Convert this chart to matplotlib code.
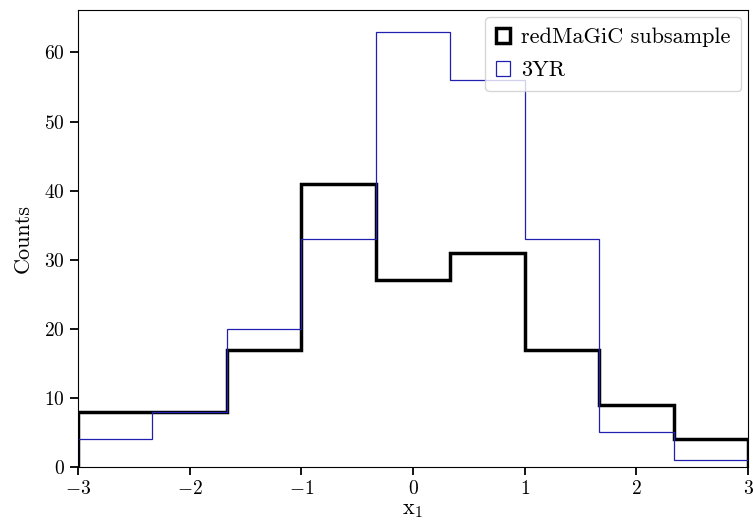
import numpy as np
import matplotlib
matplotlib.use("Agg")
import matplotlib.pyplot as plt

plt.rcParams['font.family'] = 'serif'
plt.rcParams['font.serif'] = ['cmr10']
plt.rcParams['mathtext.fontset'] = 'cm'
plt.rcParams['axes.formatter.use_mathtext'] = True
plt.rcParams['font.size'] = 14

# bin edges en x1 y cuentas por bin
bordes = np.linspace(-3, 3, 10)
cuentas_redmagic = [8, 8, 17, 41, 27, 31, 17, 9, 4]
cuentas_3yr = [4, 8, 20, 33, 63, 56, 33, 5, 1]

centros = 0.5 * (bordes[:-1] + bordes[1:])

fig = plt.figure(figsize=(7.53, 5.25), dpi=100)
ax = fig.add_axes([0.1036, 0.1105, 0.8898, 0.8705])

ax.hist(centros, bins=bordes, weights=cuentas_redmagic, histtype='step',
        color='black', lw=2.5, label='redMaGiC subsample')
ax.hist(centros, bins=bordes, weights=cuentas_3yr, histtype='step',
        color='#2020b0', lw=0.9, label='3YR')

ax.set_xlim(-3, 3)
ax.tick_params(labelsize=14, length=6, width=1.3)
ax.set_xlabel(r'x$_1$', fontsize=16, labelpad=2)
ax.set_ylabel('Counts', fontsize=16, labelpad=8)
ax.legend(loc='upper right', fontsize=16, handlelength=0.6, handletextpad=0.5,
          borderaxespad=0.3, labelspacing=0.6, borderpad=0.5)

fig.savefig('out.png', dpi=100)
